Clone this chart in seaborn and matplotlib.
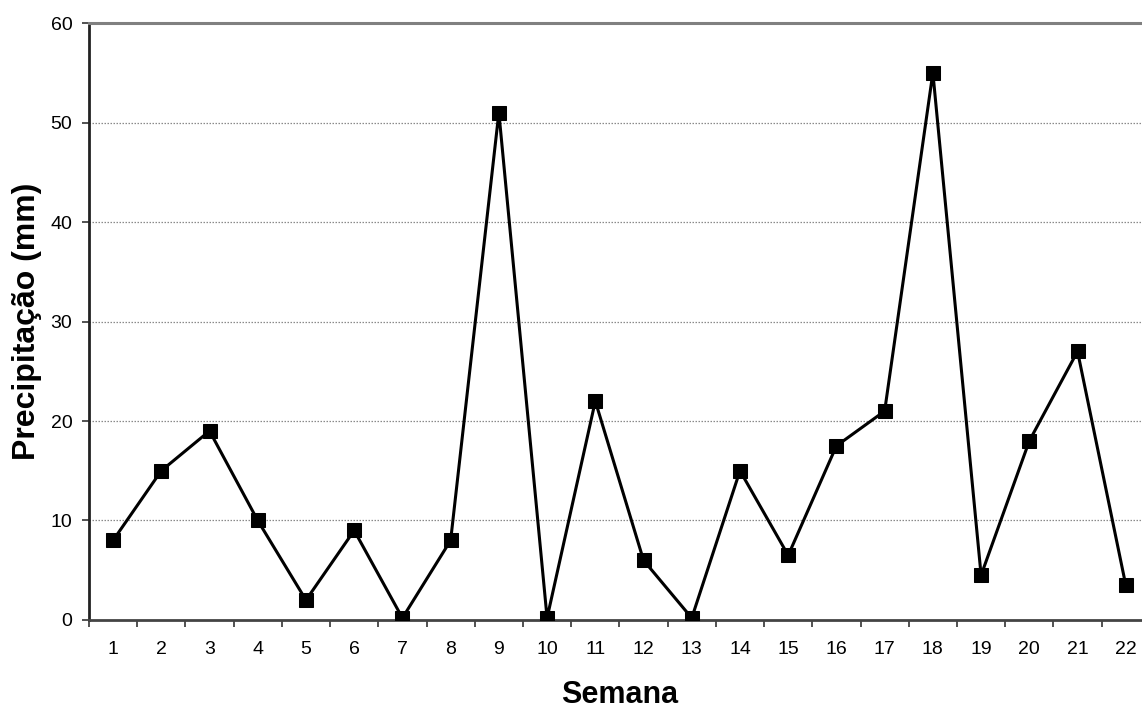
import numpy as np
import pandas as pd
import matplotlib
matplotlib.use("Agg")
import matplotlib.pyplot as plt
import seaborn as sns
from matplotlib.ticker import FixedLocator, NullFormatter, FixedFormatter

# Weekly rainfall totals
semanas = list(range(1, 23))
precipitacao = [8, 15, 19, 10, 2, 9, 0.2, 8, 51, 0.2, 22, 6, 0.2, 15, 6.5,
                17.5, 21, 55, 4.5, 18, 27, 3.5]
y_ticks = [0, 10, 20, 30, 40, 50, 60]

sns.set_style("white")
plt.rcParams["font.family"] = ["Liberation Sans", "DejaVu Sans"]
plt.rcParams["text.color"] = "black"
plt.rcParams["axes.labelcolor"] = "black"
plt.rcParams["xtick.labelcolor"] = "black"
plt.rcParams["ytick.labelcolor"] = "black"

df = pd.DataFrame({"Semana": semanas, "Precipitação (mm)": precipitacao})

fig = plt.figure(figsize=(11.42, 7.08), dpi=100)
ax = fig.add_axes([0.0779, 0.1243, 0.929, 0.8432])

# horizontal gridlines (dotted), drawn below the series
for v in y_ticks[1:-1]:
    ax.axhline(v, color="#8a8a8a", linewidth=0.9, linestyle=(0, (1.2, 1.2)), zorder=0)

sns.lineplot(data=df, x="Semana", y="Precipitação (mm)", ax=ax,
             color="black", linewidth=2.2, marker="s", markersize=10,
             markeredgecolor="black", markerfacecolor="black", zorder=3)

ax.set_xlim(0.5, 22.5)
ax.set_ylim(0, 60)

# category boundaries as ticks, labels centered on each category
ax.xaxis.set_major_locator(FixedLocator(np.arange(0.5, 23, 1)))
ax.xaxis.set_major_formatter(NullFormatter())
ax.xaxis.set_minor_locator(FixedLocator(semanas))
ax.xaxis.set_minor_formatter(FixedFormatter([str(s) for s in semanas]))
ax.tick_params(axis="x", which="major", direction="out", length=5, width=1.2,
               color="#333333", bottom=True)
ax.tick_params(axis="x", which="minor", length=0, pad=15, labelsize=14,
               bottom=True, labelcolor="black")

ax.set_yticks(y_ticks)
ax.set_yticklabels([str(v) for v in y_ticks])
ax.tick_params(axis="y", direction="out", length=5, width=1.2, color="#333333",
               left=True, labelsize=14, pad=7, labelcolor="black")

ax.spines["right"].set_visible(False)
ax.spines["top"].set_color("#808080")
ax.spines["top"].set_linewidth(2.2)
ax.spines["left"].set_color("#222222")
ax.spines["left"].set_linewidth(2)
ax.spines["bottom"].set_color("#444444")
ax.spines["bottom"].set_linewidth(2)

ax.set_xlabel("Semana", fontsize=22, fontweight="bold", color="black")
ax.set_ylabel("Precipitação (mm)", fontsize=23, fontweight="bold", color="black")
ax.xaxis.set_label_coords(0.5, -0.1005)
ax.yaxis.set_label_coords(-0.0443, 0.5)

fig.savefig("out.png", dpi=100)
